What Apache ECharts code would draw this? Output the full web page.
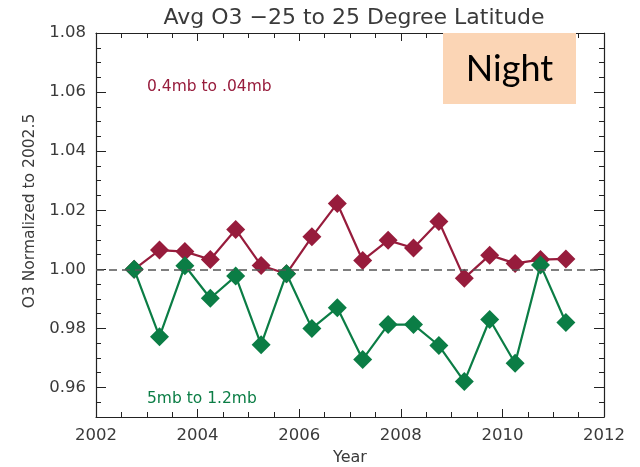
<!DOCTYPE html>
<html><head><meta charset="utf-8">
<script src="https://cdn.jsdelivr.net/npm/echarts@6/dist/echarts.min.js"></script>
<style>html,body{margin:0;padding:0;background:#fff}#c{width:640px;height:467px}</style>
</head><body><div id="c"></div>
<script>
var years = [2002.75,2003.25,2003.75,2004.25,2004.75,2005.25,2005.75,2006.25,2006.75,2007.25,2007.75,2008.25,2008.75,2009.25,2009.75,2010.25,2010.75,2011.25];
var upperValues = [1.000,1.0065,1.006,1.0033,1.0135,1.0013,0.9985,1.011,1.0223,1.003,1.0098,1.0072,1.0162,0.997,1.0048,1.002,1.0033,1.0035];
var lowerValues = [1.000,0.9772,1.0012,0.9902,0.9977,0.9745,0.9985,0.9800,0.9870,0.9695,0.9813,0.9813,0.9742,0.9620,0.9830,0.9682,1.0015,0.9820];
var upperLabel = "0.4mb to .04mb";
var lowerLabel = "5mb to 1.2mb";
var titleText = "Avg O3 \u221225 to 25 Degree Latitude";
var xName = "Year";
var yName = "O3 Normalized to 2002.5";
var xTicks = [2002,2004,2006,2008,2010,2012];
var yTicks = [0.96,0.98,1.00,1.02,1.04,1.06,1.08];

var RED = '#971c3c', GREEN = '#0b7d45', AX = '#222', TXT = '#3a3a3a';
var font = 'DejaVu Sans';
function pairs(v){ return years.map(function(y,i){ return [y, v[i]]; }); }

var chart = echarts.init(document.getElementById('c'), null, {renderer:'canvas'});
var baseX = {type:'value', min:2002, max:2012, interval:2,
  axisLine:{show:true,onZero:false,lineStyle:{color:AX,width:1.2}},
  axisTick:{show:true,inside:true,length:8,lineStyle:{color:AX}},
  minorTick:{show:true,splitNumber:4,length:5,lineStyle:{color:AX}},
  splitLine:{show:false}};
var minorY = {type:'value', min:0.95, max:1.08, interval:0.005,
  axisLine:{show:true,onZero:false,lineStyle:{color:AX,width:1.2}},
  axisTick:{show:true,inside:true,length:5,lineStyle:{color:AX}},
  axisLabel:{show:false}, splitLine:{show:false}};
var majorY = {type:'value', min:0.95, max:1.08, interval:0.005,
  axisLine:{show:false},
  axisTick:{show:true,inside:true,length:10,lineStyle:{color:AX},customValues:yTicks},
  splitLine:{show:false}};
chart.setOption({
  animation:false,
  title:{text:titleText,left:349,textAlign:'center',top:2,
    textStyle:{fontFamily:font,fontWeight:'normal',fontSize:22,color:TXT}},
  grid:{left:96,right:36,top:33,bottom:50},
  xAxis:[
    Object.assign({}, baseX, {position:'bottom',
      axisLabel:{show:true,fontFamily:font,fontSize:16.5,color:TXT,margin:10,
        formatter:function(v){return xTicks.indexOf(Math.round(v))>=0?String(Math.round(v)):'';}}}),
    Object.assign({}, baseX, {position:'top',axisLabel:{show:false}})
  ],
  yAxis:[
    Object.assign({}, minorY, {position:'left'}),
    Object.assign({}, minorY, {position:'right'}),
    Object.assign({}, majorY, {position:'left',
      axisLabel:{show:true,fontFamily:font,fontSize:16.5,color:TXT,margin:10,customValues:yTicks,
        formatter:function(v){return (Math.round(v*100)/100).toFixed(2);}}}),
    Object.assign({}, majorY, {position:'right',axisLabel:{show:false}})
  ],
  series:[
    {type:'line',data:pairs(upperValues),symbol:'diamond',symbolSize:[19,19],
     lineStyle:{color:RED,width:2.2},itemStyle:{color:RED},z:3,
     markLine:{silent:true,symbol:['none','none'],label:{show:false},
       lineStyle:{color:'#555',type:[8,5],width:1.5},data:[{yAxis:1.0}]}},
    {type:'line',data:pairs(lowerValues),symbol:'diamond',symbolSize:[19,19],
     lineStyle:{color:GREEN,width:2.2},itemStyle:{color:GREEN},z:4}
  ],
  graphic:[
    {type:'text',x:350,y:458,style:{text:xName,fill:TXT,font:'16px "DejaVu Sans"',align:'center',verticalAlign:'middle'}},
    {type:'text',x:30,y:211,rotation:Math.PI/2,style:{text:yName,fill:TXT,font:'15.5px "DejaVu Sans"',align:'center',verticalAlign:'middle'}},
    {type:'text',left:147,top:79,style:{text:upperLabel,fill:RED,font:'15.5px "DejaVu Sans"'}},
    {type:'text',left:147,top:391,style:{text:lowerLabel,fill:GREEN,font:'15.5px "DejaVu Sans"'}},
    {type:'rect',shape:{x:443,y:33,width:133,height:71},style:{fill:'#fbd5b5'},z:100},
    {type:'text',x:509.5,y:69,z:101,style:{text:'Night',fill:'#000',font:'36px Lato',align:'center',verticalAlign:'middle'}}
  ]
});
</script></body></html>
